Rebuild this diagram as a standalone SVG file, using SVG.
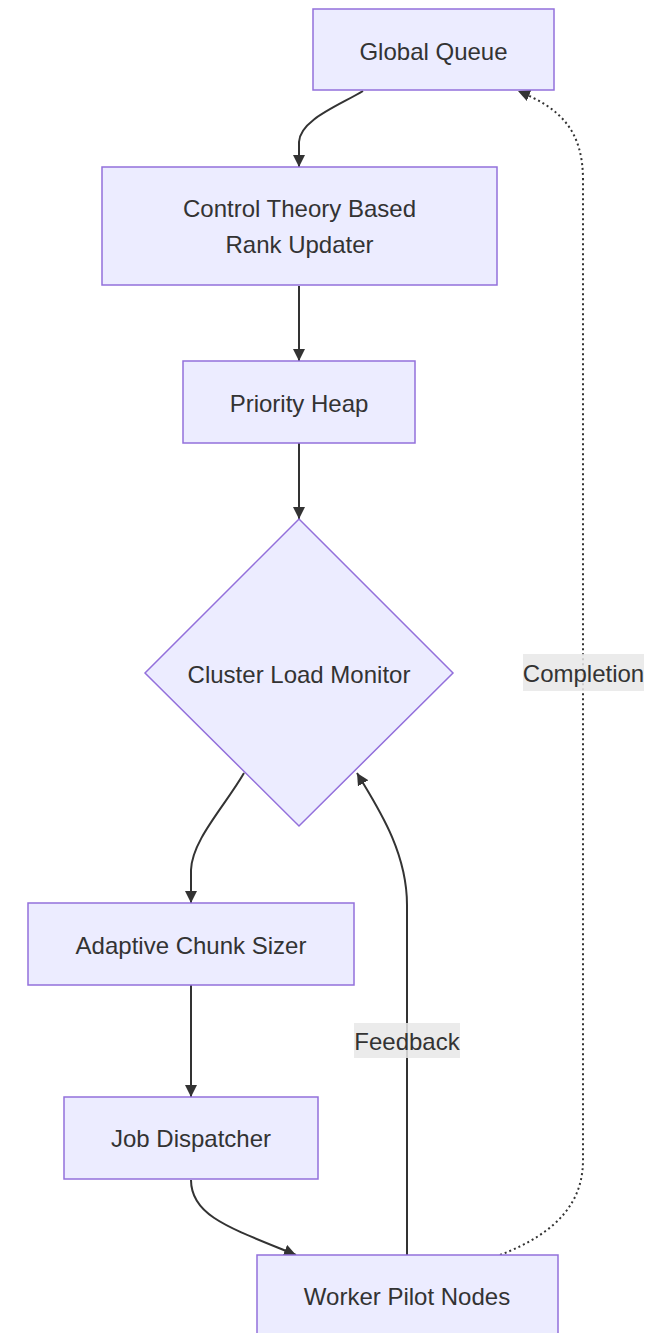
<svg xmlns="http://www.w3.org/2000/svg" width="666" height="1333" viewBox="0 0 666 1333">
  <style>
    .node rect, .node polygon { fill: #ECECFF; stroke: #9370DB; stroke-width: 1.5; }
    .node text { font-family: "Liberation Sans", Arial, sans-serif; font-size: 24px; fill: #333333; text-anchor: middle; }
    .edge { fill: none; stroke: #333333; stroke-width: 2; }
    .dotted { stroke-dasharray: 2 3; }
    .label-bg { fill: #e8e8e8; opacity: 0.85; }
    .label { font-family: "Liberation Sans", Arial, sans-serif; font-size: 24px; fill: #333333; text-anchor: middle; }
  </style>
  <defs>
    <marker id="arrow" viewBox="0 0 10 10" refX="10" refY="5" markerWidth="12" markerHeight="12" markerUnits="userSpaceOnUse" orient="auto">
      <path d="M0,0 L10,5 L0,10 z" fill="#333333"/>
    </marker>
  </defs>
  <rect width="666" height="1333" fill="#ffffff"/>

  <!-- connectors -->
  <g id="edges">
    <path class="edge" d="M363,91 C338,106 300,120 299,142 L299,167" marker-end="url(#arrow)"/>
    <path class="edge" d="M299,286 L299,361" marker-end="url(#arrow)"/>
    <path class="edge" d="M299,443 L299,519" marker-end="url(#arrow)"/>
    <path class="edge" d="M244,773 C225,806 192,840 191,870 L191,903" marker-end="url(#arrow)"/>
    <path class="edge" d="M191,985 L191,1097" marker-end="url(#arrow)"/>
    <path class="edge" d="M191,1180 C191,1216 230,1228 296,1255" marker-end="url(#arrow)"/>
    <path class="edge" d="M407,1255 L407,905 C407,850 376,805 357,773" marker-end="url(#arrow)"/>
    <path class="edge dotted" d="M500,1255 C560,1232 583,1200 583,1160 L583,180 C583,130 560,108 518,91" marker-end="url(#arrow)"/>
    <g id="edge-label-feedback">
      <rect class="label-bg" x="354" y="1023" width="106" height="35"/>
      <text class="label" x="407" y="1050">Feedback</text>
    </g>
    <g id="edge-label-completion">
      <rect class="label-bg" x="523" y="654" width="121" height="37"/>
      <text class="label" x="583.5" y="682">Completion</text>
    </g>
  </g>

  <!-- nodes -->
  <g id="global-queue" class="node">
    <rect x="313" y="9" width="241" height="81"/>
    <text x="433.5" y="60">Global Queue</text>
  </g>
  <g id="rank-updater" class="node">
    <rect x="102" y="167" width="395" height="118"/>
    <text x="299.5" y="217">Control Theory Based</text>
    <text x="299.5" y="253">Rank Updater</text>
  </g>
  <g id="priority-heap" class="node">
    <rect x="183" y="361" width="232" height="82"/>
    <text x="299" y="412">Priority Heap</text>
  </g>
  <g id="cluster-load-monitor" class="node">
    <polygon points="299,519 453,673 299,826 145,673"/>
    <text x="299" y="683">Cluster Load Monitor</text>
  </g>
  <g id="adaptive-chunk-sizer" class="node">
    <rect x="28" y="903" width="326" height="82"/>
    <text x="191" y="954">Adaptive Chunk Sizer</text>
  </g>
  <g id="job-dispatcher" class="node">
    <rect x="64" y="1097" width="254" height="82"/>
    <text x="191" y="1147">Job Dispatcher</text>
  </g>
  <g id="worker-pilot-nodes" class="node">
    <rect x="257" y="1255" width="301" height="82"/>
    <text x="407" y="1305">Worker Pilot Nodes</text>
  </g>
</svg>
